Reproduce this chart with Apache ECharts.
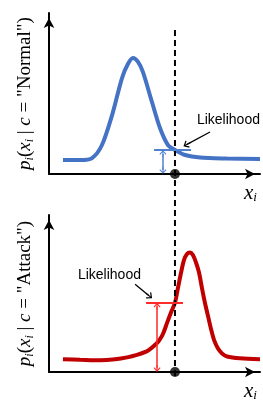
<!DOCTYPE html>
<html>
<head>
<meta charset="utf-8">
<script src="https://cdn.jsdelivr.net/npm/echarts@6/dist/echarts.min.js"></script>
<style>
html,body{margin:0;padding:0;background:#fff;}
#chart{width:263px;height:402px;}
</style>
</head>
<body>
<div id="chart"></div>
<script>
// p(x|c="Normal") (x 0..100 along the axis, y 0..100 up to the arrow)
var normalX = [6.6, 14.7, 20.4, 25.1, 29.9, 34.6, 37.4, 39.8, 42.2, 44.5, 48.8, 52.6, 56.4, 59.7, 64.5, 71.6, 84.4, 100];
var normalY = [8.7, 8.7, 9.9, 18, 36.6, 59.6, 68.3, 72, 69.6, 63.4, 44.7, 28.6, 18, 14.9, 11.8, 10.2, 9.6, 9.3];
// p(x|c="Attack")
var attackX = [6.6, 14.7, 24.2, 31.3, 37, 41.7, 46, 47.9, 50.2, 52.1, 54, 55.9, 57.8, 59.7, 61.1, 62.6, 64, 65.4, 66.8,
               68.2, 69.7, 71.1, 72.5, 73.9, 75.4, 76.8, 78.2, 80.1, 82, 84.4, 90.5, 100];
var attackY = [8.1, 7.8, 7.5, 8.1, 9.3, 10.9, 13, 14.6, 17.2, 19.9, 24.2, 31.1, 37.9, 44.1, 53.4, 63.4, 71.4, 75.2, 76.1,
               74.5, 69.6, 63.4, 53.4, 44.1, 35.4, 27.3, 20.5, 14.9, 11.8, 9.9, 8.7, 8.1];

var obsX = 59.7;          // the observed x_i (dashed line / black dot)
var normalLik = 14.9;     // likelihood under "Normal"
var attackLik = 44.1;     // likelihood under "Attack"

// likelihood bar ends, double arrow x, label anchor, pointer arrow [from, to]
var normalBar = [49.8, 67.3];
var normalArrowX = 54;
var normalLabel = [70.1, 33.5];
var normalPointer = [[76.3, 26.1], [65.4, 18.4]];
var attackBar = [46, 63.5];
var attackArrowX = 51.2;
var attackLabel = [13.7, 61.5];
var attackPointer = [[40.8, 55.9], [47.4, 48.6]];

var blue = '#4472C4', blueLight = '#4F81D0';
var red = '#C00000', redLight = '#FF2A2A';
var chevron = 'path://M5,0 L10,5.5 L9,6.6 L5.6,2.9 L5.6,10 L4.4,10 L4.4,2.9 L1,6.6 L0,5.5 Z';

function zip(xs, ys) {
  return xs.map(function (x, i) { return [x, ys[i]]; });
}

function yName(cls) {
  return '{it|p}{sub|i}{n|(}{it|x}{sub|i}{n| | }{it|c}{n| = "' + cls + '")}';
}
var nameRich = {
  it: {fontFamily: 'Liberation Serif', fontStyle: 'italic', fontSize: 19, lineHeight: 22, color: '#000'},
  n: {fontFamily: 'Liberation Serif', fontSize: 19, lineHeight: 22, color: '#000'},
  sub: {fontFamily: 'Liberation Serif', fontStyle: 'italic', fontSize: 12, lineHeight: 12, verticalAlign: 'bottom', color: '#000'}
};

function axisLine() {
  return {show: true, lineStyle: {color: '#000', width: 2}, symbol: ['none', 'arrow'], symbolSize: [8, 10], symbolOffset: [0, -5]};
}

function xAx(idx) {
  return {
    type: 'value', gridIndex: idx, min: 0, max: 100,
    axisLine: axisLine(), axisTick: {show: false}, axisLabel: {show: false}, splitLine: {show: false},
    name: '{it|x}{sub|i}', nameLocation: 'end', nameGap: -16,
    nameTextStyle: {verticalAlign: 'top', align: 'left', padding: [8, 0, 0, 0],
      rich: {it: {fontFamily: 'Liberation Serif', fontStyle: 'italic', fontSize: 21, lineHeight: 22, color: '#000'},
             sub: {fontFamily: 'Liberation Serif', fontStyle: 'italic', fontSize: 13, lineHeight: 12, verticalAlign: 'bottom', color: '#000'}}}
  };
}
function yAx(idx, cls) {
  return {
    type: 'value', gridIndex: idx, min: 0, max: 100,
    axisLine: axisLine(), axisTick: {show: false}, axisLabel: {show: false}, splitLine: {show: false},
    name: yName(cls), nameLocation: 'middle', nameRotate: 90, nameGap: 13,
    nameTextStyle: {rich: nameRich}
  };
}

function likelihoodMarks(barX, lik, arrowX, pointer, barColor) {
  return [
    [{coord: [barX[0], lik], symbol: 'none'}, {coord: [barX[1], lik], symbol: 'none', lineStyle: {color: barColor, width: 1.8, type: 'solid'}}],
    [{coord: [arrowX, 2.3], symbol: chevron, symbolSize: [7, 7]},
     {coord: [arrowX, lik - 2.3], symbol: chevron, symbolSize: [7, 7], lineStyle: {color: barColor, width: 1.5, type: 'solid'}}],
    [{coord: pointer[0], symbol: 'none'},
     {coord: pointer[1], symbol: chevron, symbolSize: [8, 8], lineStyle: {color: '#000', width: 1.3, type: 'solid'}}]
  ];
}

function labelPoint(pos) {
  return {
    symbol: 'circle', symbolSize: 0, silent: true,
    label: {show: true, position: 'right', distance: 0, formatter: 'Likelihood',
      fontFamily: 'Liberation Sans', fontSize: 14, color: '#000'},
    data: [{coord: pos}]
  };
}

function curve(idx, xs, ys, color, barX, lik, arrowX, pointer, barColor, labelPos) {
  return {
    type: 'line', xAxisIndex: idx, yAxisIndex: idx, data: zip(xs, ys),
    smooth: 0.3, symbol: 'none', lineStyle: {color: color, width: 4}, z: 3,
    markLine: {silent: true, animation: false, label: {show: false}, symbol: 'none',
      data: likelihoodMarks(barX, lik, arrowX, pointer, barColor)},
    markPoint: labelPoint(labelPos)
  };
}

var chart = echarts.init(document.getElementById('chart'), null, {renderer: 'canvas'});
chart.setOption({
  animation: false,
  grid: [
    {left: 49, right: 3, top: 13, height: 161},
    {left: 49, right: 3, top: 215, height: 161},
    {left: 49, right: 3, top: 28, height: 348}
  ],
  xAxis: [xAx(0), xAx(1), {type: 'value', gridIndex: 2, min: 0, max: 100, show: false}],
  yAxis: [yAx(0, 'Normal'), yAx(1, 'Attack'), {type: 'value', gridIndex: 2, min: 0, max: 1, show: false}],
  series: [
    {type: 'line', xAxisIndex: 2, yAxisIndex: 2, data: [[obsX, 0], [obsX, 1]], symbol: 'none',
      lineStyle: {color: '#000', width: 2, type: [6, 4]}, z: 4},
    curve(0, normalX, normalY, blue, normalBar, normalLik, normalArrowX, normalPointer, blueLight, normalLabel),
    curve(1, attackX, attackY, red, attackBar, attackLik, attackArrowX, attackPointer, redLight, attackLabel),
    {type: 'scatter', xAxisIndex: 0, yAxisIndex: 0, data: [[obsX, 0]], symbolSize: 10, itemStyle: {color: '#000'}, clip: false, z: 6},
    {type: 'scatter', xAxisIndex: 1, yAxisIndex: 1, data: [[obsX, 0]], symbolSize: 10, itemStyle: {color: '#000'}, clip: false, z: 6}
  ]
});
</script>
</body>
</html>
